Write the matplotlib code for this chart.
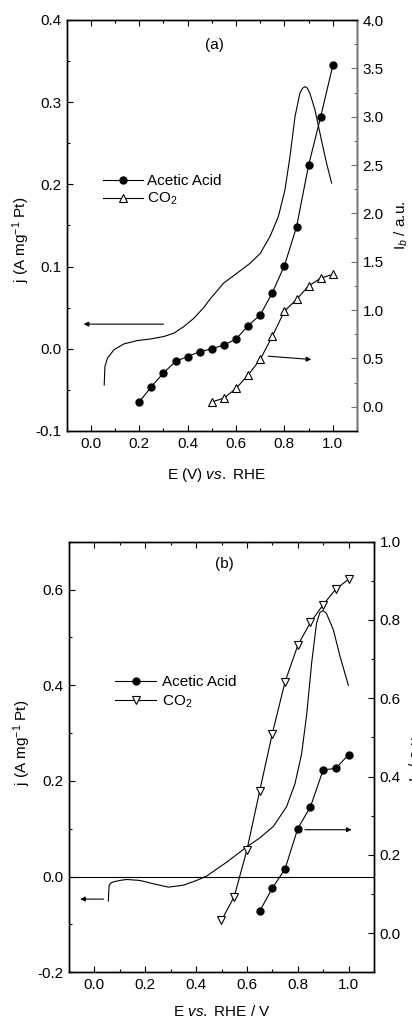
import matplotlib
matplotlib.use("Agg")
import matplotlib.pyplot as plt
from matplotlib.ticker import MultipleLocator, FormatStrFormatter

plt.rcParams['font.family'] = ['Liberation Sans', 'DejaVu Sans']
plt.rcParams['mathtext.fontset'] = 'custom'
plt.rcParams['mathtext.rm'] = 'Liberation Sans'
plt.rcParams['mathtext.it'] = 'Liberation Sans:italic'
plt.rcParams['axes.unicode_minus'] = False
plt.rcParams['font.size'] = 11

# ---- panel (a) data ----
cv_a_E = [0.055, 0.058, 0.069, 0.096, 0.137, 0.192, 0.247, 0.302, 0.343, 0.384, 0.425,
          0.466, 0.494, 0.549, 0.604, 0.658, 0.700, 0.741, 0.775, 0.802, 0.823, 0.844,
          0.864, 0.875, 0.885, 0.895, 0.905, 0.926, 0.953, 0.974, 0.995]
cv_a_j = [-0.044, -0.0215, -0.011, -0.001, 0.006, 0.010, 0.012, 0.015, 0.019, 0.027, 0.037,
          0.050, 0.061, 0.080, 0.092, 0.104, 0.116, 0.137, 0.161, 0.193, 0.234, 0.283,
          0.311, 0.317, 0.319, 0.317, 0.311, 0.291, 0.254, 0.226, 0.2016]

acid_a_E = [0.20, 0.25, 0.30, 0.35, 0.40, 0.45, 0.50, 0.55, 0.60, 0.65, 0.70,
            0.75, 0.80, 0.85, 0.90, 0.95, 1.00]
acid_a_I = [0.05, 0.21, 0.35, 0.47, 0.52, 0.57, 0.60, 0.64, 0.70, 0.84, 0.95,
            1.18, 1.46, 1.86, 2.50, 3.00, 3.53]

co2_a_E = [0.50, 0.55, 0.60, 0.65, 0.70, 0.75, 0.80, 0.85, 0.90, 0.95, 1.00]
co2_a_I = [0.05, 0.09, 0.19, 0.33, 0.49, 0.73, 0.99, 1.11, 1.25, 1.33, 1.37]

# ---- panel (b) data ----
cv_b_E = [0.055, 0.056, 0.058, 0.065, 0.075, 0.10, 0.127, 0.179, 0.232, 0.291, 0.350,
          0.402, 0.441, 0.520, 0.599, 0.651, 0.704, 0.756, 0.789, 0.815, 0.835, 0.855,
          0.874, 0.887, 0.900, 0.913, 0.940, 0.966, 0.999]
cv_b_j = [-0.051, -0.035, -0.018, -0.013, -0.011, -0.008, -0.006, -0.008, -0.015, -0.022, -0.018,
          -0.008, 0.001, 0.030, 0.062, 0.081, 0.105, 0.146, 0.194, 0.256, 0.338, 0.448,
          0.530, 0.552, 0.556, 0.550, 0.516, 0.461, 0.400]

acid_b_E = [0.65, 0.70, 0.75, 0.80, 0.85, 0.90, 0.95, 1.00]
acid_b_I = [0.056, 0.115, 0.164, 0.267, 0.323, 0.417, 0.421, 0.456]

co2_b_E = [0.50, 0.55, 0.60, 0.65, 0.70, 0.75, 0.80, 0.85, 0.90, 0.95, 1.00]
co2_b_I = [0.033, 0.093, 0.2125, 0.3625, 0.51, 0.642, 0.735, 0.794, 0.839, 0.879, 0.904]

W, H = 412, 1021
fig = plt.figure(figsize=(W / 100, H / 100), dpi=100)
ax1 = fig.add_axes([66.7 / W, 1 - 431 / H, (357 - 66.7) / W, 411 / H])
ax2 = fig.add_axes([69 / W, 1 - 972.3 / H, 305 / W, 430.6 / H])
tw1 = ax1.twinx()
tw2 = ax2.twinx()

lw = 0.8


def style(ax, tw, ymaj, ymin, rmaj, rmin):
    ax.set_xlim(-0.1, 1.1)
    ax.xaxis.set_major_locator(MultipleLocator(0.2))
    ax.xaxis.set_minor_locator(MultipleLocator(0.1))
    ax.yaxis.set_major_locator(MultipleLocator(ymaj))
    ax.yaxis.set_minor_locator(MultipleLocator(ymin))
    tw.yaxis.set_major_locator(MultipleLocator(rmaj))
    tw.yaxis.set_minor_locator(MultipleLocator(rmin))
    for a in (ax, tw):
        a.xaxis.set_major_formatter(FormatStrFormatter('%.1f'))
        a.yaxis.set_major_formatter(FormatStrFormatter('%.1f'))
        for s in a.spines.values():
            s.set_linewidth(1.0)
    ax.tick_params(which='both', direction='in', top=True, right=False, width=0.8,
                   labelsize=11, pad=4)
    ax.tick_params(which='major', length=4.5)
    ax.tick_params(which='minor', length=2.5)
    tw.tick_params(which='both', direction='in', width=0.8, labelsize=11, pad=4)
    tw.tick_params(which='major', length=4.5)
    tw.tick_params(which='minor', length=2.5)


# panel (a)
ax1.plot(cv_a_E, cv_a_j, color='k', lw=lw)
ax1.set_ylim(-0.1, 0.4)
tw1.set_ylim(-0.25, 4.0)
l1, = tw1.plot(acid_a_E, acid_a_I, '-o', color='k', lw=lw, ms=5, mfc='k', label='Acetic Acid')
l2, = tw1.plot(co2_a_E, co2_a_I, '-^', color='k', lw=lw, ms=5.5, mfc='white', mew=0.8,
               label='CO$_2$')
style(ax1, tw1, 0.1, 0.05, 0.5, 0.25)
tw1.spines['right'].set_color('0.45')
tw1.tick_params(axis='y', which='both', color='0.45')

ax1.set_xlabel('E (V) $vs.$ RHE', fontsize=11)
ax1.xaxis.set_label_coords(0.517, -0.086)
ax1.set_ylabel('j (A mg$^{-1}$ Pt)', fontsize=11)
ax1.yaxis.set_label_coords(-0.12, 0.465)
tw1.set_ylabel('I$_b$ / a.u.', fontsize=11)
tw1.yaxis.set_label_coords(1.124, 0.5)
ax1.text(0.51, 0.37, '(a)', ha='center', va='center', fontsize=11)

ap = dict(arrowstyle='-|>', lw=0.8, color='k', mutation_scale=7, shrinkA=0, shrinkB=0)
ax1.annotate('', xy=(-0.03, 0.030), xytext=(0.30, 0.030), arrowprops=ap)
ax1.annotate('', xy=(0.911, -0.013), xytext=(0.733, -0.009), arrowprops=ap)

tw1.legend(handles=[l1, l2], loc='upper left', bbox_to_anchor=(103 / W, 1 - 174 / H),
           bbox_transform=fig.transFigure, frameon=False, borderpad=0, borderaxespad=0,
           handlelength=2.6, handletextpad=0.3, labelspacing=0.2, fontsize=11)

# panel (b)
ax2.plot(cv_b_E, cv_b_j, color='k', lw=lw)
ax2.axhline(0, color='k', lw=lw)
ax2.set_ylim(-0.2, 0.7)
tw2.set_ylim(-0.1, 1.0)
m1, = tw2.plot(acid_b_E, acid_b_I, '-o', color='k', lw=lw, ms=5, mfc='k', label='Acetic Acid')
m2, = tw2.plot(co2_b_E, co2_b_I, '-v', color='k', lw=lw, ms=5.5, mfc='white', mew=0.8,
               label='CO$_2$')
style(ax2, tw2, 0.2, 0.1, 0.2, 0.1)

ax2.set_xlabel('E $vs.$ RHE / V', fontsize=11)
ax2.xaxis.set_label_coords(0.5, -0.074)
ax2.set_ylabel('j (A mg$^{-1}$ Pt)', fontsize=11)
ax2.yaxis.set_label_coords(-0.118, 0.532)
tw2.set_ylabel('I$_b$ / a.u.', fontsize=11)
tw2.yaxis.set_label_coords(1.111, 0.5)
ax2.text(0.51, 0.653, '(b)', ha='center', va='center', fontsize=11)

ax2.annotate('', xy=(-0.056, -0.047), xytext=(0.036, -0.047), arrowprops=ap)
ax2.annotate('', xy=(1.012, 0.098), xytext=(0.828, 0.098), arrowprops=ap)

tw2.legend(handles=[m1, m2], loc='upper left', bbox_to_anchor=(115 / W, 1 - 675 / H),
           bbox_transform=fig.transFigure, frameon=False, borderpad=0, borderaxespad=0,
           handlelength=2.7, handletextpad=0.35, labelspacing=0.3, fontsize=11)

fig.savefig('out.png', dpi=100)
